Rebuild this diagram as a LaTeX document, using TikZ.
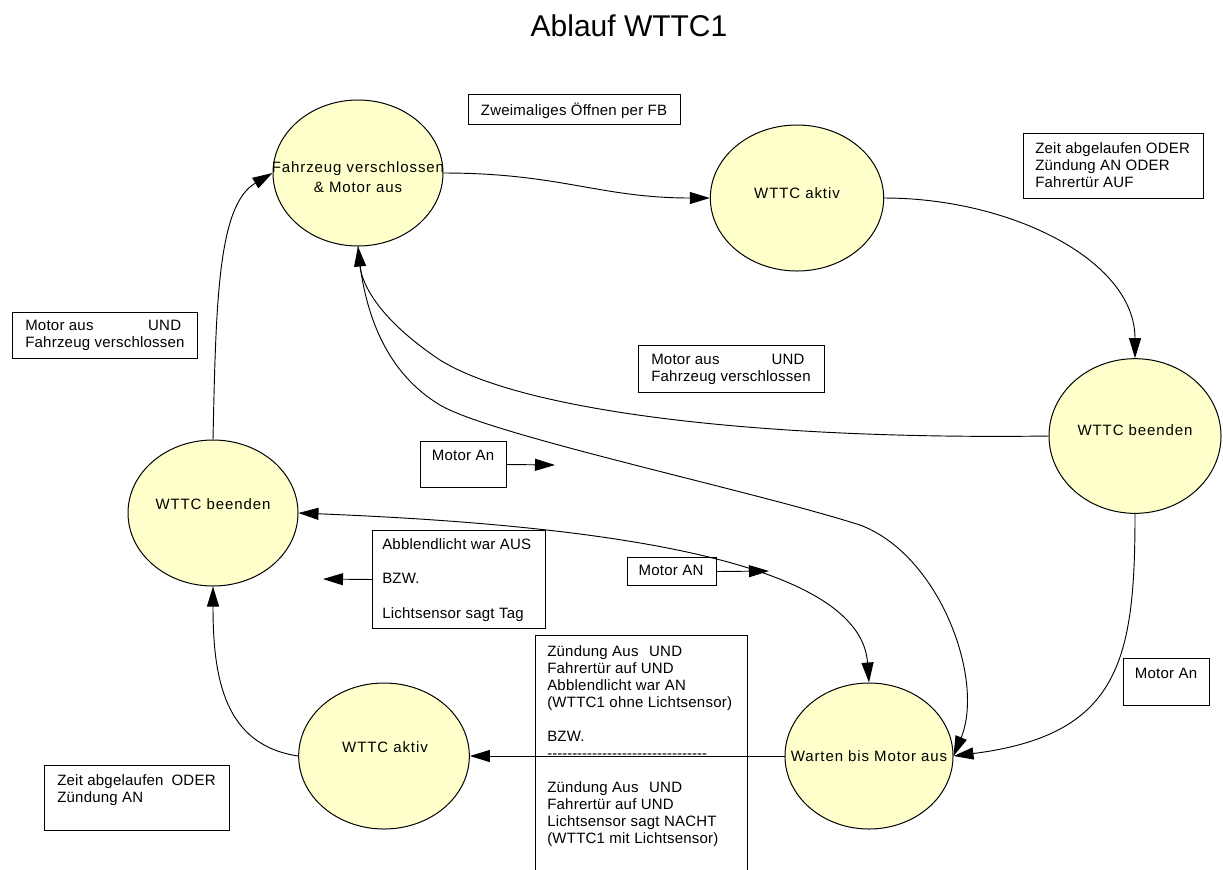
\documentclass[tikz,border=0pt]{standalone}
\usepackage{fontspec}
\setmainfont{Liberation Sans}
\newfontfamily\boxfont[LetterSpace=1.5]{Liberation Sans}
\newfontfamily\ellfont[LetterSpace=6]{Liberation Sans}
\usetikzlibrary{arrows.meta,shapes.geometric}
\definecolor{stateyellow}{RGB}{255,255,204}
\newcommand\hyph{-\kern0pt}
\newcommand\dashrow{\hyph\hyph\hyph\hyph\hyph\hyph\hyph\hyph\hyph\hyph\hyph\hyph\hyph\hyph\hyph\hyph\hyph\hyph\hyph\hyph\hyph\hyph\hyph\hyph\hyph\hyph\hyph\hyph\hyph\hyph\hyph\hyph}
\begin{document}
\begin{tikzpicture}[x=0.75pt,y=-0.75pt,
  state/.style={ellipse,draw=black,fill=stateyellow,line width=0.75pt,inner sep=0pt},
  stlabel/.style={font=\ellfont\fontsize{11.25pt}{14.5pt}\selectfont,align=center,inner sep=0pt},
  boxst/.style={draw=black,line width=0.75pt,anchor=north west,inner sep=0pt},
  boxtxt/.style={font=\boxfont\fontsize{11.25pt}{12.75pt}\selectfont,align=left,inner sep=0pt,anchor=base west},
  arr/.style={-{Triangle[length=15pt,width=9pt]},line width=0.7pt,black},
  arrboth/.style={{Triangle[length=15pt,width=9pt]}-{Triangle[length=15pt,width=9pt]},line width=0.7pt,black},
]
\useasboundingbox (0,0) rectangle (1223,869);

% title
\node[font=\fontsize{22.5pt}{26pt}\selectfont,anchor=base,inner sep=0pt] (title) at (629,36) {Ablauf WTTC1};

% states
\node[state,minimum width=127.5pt,minimum height=109.5pt] (fz) at (358,173) {};
\node[stlabel] (fzt) at (358,177) {Fahrzeug verschlossen\\\& Motor aus};
\node[state,minimum width=130pt,minimum height=109.5pt] (aktivT) at (797,198) {};
\node[stlabel] (aktivTt) at (797,193) {WTTC aktiv};
\node[state,minimum width=129pt,minimum height=116pt] (beendenR) at (1135,436) {};
\node[stlabel] (beendenRt) at (1135,430) {WTTC beenden};
\node[state,minimum width=127.5pt,minimum height=109.5pt] (beendenL) at (213,513) {};
\node[stlabel] (beendenLt) at (213,504) {WTTC beenden};
\node[state,minimum width=128pt,minimum height=109.5pt] (aktivB) at (384,756) {};
\node[stlabel] (aktivBt) at (385,747) {WTTC aktiv};
\node[state,minimum width=126pt,minimum height=109.5pt] (warten) at (869,756) {};
\node[stlabel] (wartent) at (869,756) {Warten bis Motor aus};

% boxes (text nodes anchored at the baseline of their last line)
\node[boxst,minimum width=159pt,minimum height=22.5pt] (b1) at (468,94) {};
\node[boxtxt,anchor=base] (b1t) at (574,115) {Zweimaliges Öffnen per FB};

\node[boxst,minimum width=135pt,minimum height=48.75pt] (b2) at (1023,133) {};
\node[boxtxt] (b2t) at (1035,187) {Zeit abgelaufen ODER\\Zündung AN ODER\\Fahrertür AUF};

\node[boxst,minimum width=138.75pt,minimum height=34.5pt] (b3) at (12,312) {};
\node[boxtxt] (b3t) at (25,347) {Motor aus\hspace{41pt}UND\\Fahrzeug verschlossen};

\node[boxst,minimum width=139.5pt,minimum height=35.25pt] (b4) at (638,345) {};
\node[boxtxt] (b4t) at (651,381) {Motor aus\hspace{39pt}UND\\Fahrzeug verschlossen};

\node[boxst,minimum width=64.5pt,minimum height=34.5pt] (b5) at (420,441) {};
\node[boxtxt,anchor=base] (b5t) at (463,460) {Motor An};

\node[boxst,minimum width=129.75pt,minimum height=73.5pt] (b6) at (372,530) {};
\node[boxtxt] (b6t) at (382,618) {Abblendlicht war AUS\\[13pt]BZW.\\[13pt]Lichtsensor sagt Tag};

\node[boxst,minimum width=66.75pt,minimum height=21pt] (b7) at (627,557) {};
\node[boxtxt,anchor=base] (b7t) at (671,575) {Motor AN};

\node[boxst,minimum width=159pt,minimum height=200pt] (b8) at (535,635) {};
\node[boxtxt] (b8t) at (547,843) {Zündung Aus\hspace{8pt}UND\\Fahrertür auf UND\\Abblendlicht war AN\\(WTTC1 ohne Lichtsensor)\\[12.75pt]BZW.\\\dashrow\\[12.75pt]Zündung Aus\hspace{8pt}UND\\Fahrertür auf UND\\Lichtsensor sagt NACHT\\(WTTC1 mit Lichtsensor)};

\node[boxst,minimum width=138.75pt,minimum height=48.75pt] (b9) at (44,765) {};
\node[boxtxt] (b9t) at (57,802) {Zeit abgelaufen\hspace{6pt}ODER\\Zündung AN};

\node[boxst,minimum width=64.5pt,minimum height=35.25pt] (b10) at (1123,658) {};
\node[boxtxt,anchor=base] (b10t) at (1166,678) {Motor An};

% free ends of the small arrows
\coordinate (b5end) at (555,465);
\coordinate (b7end) at (769,571);
\coordinate (b6end) at (323,579);

% connectors
\draw[arr] (fz.east) .. controls (560,173) and (600,198) .. (aktivT.west);
\draw[arr] (aktivT.east) .. controls (1010,198) and (1135,260) .. (beendenR.north);
\draw[arr] (beendenR.west) .. controls (750,440) and (520,410) .. (440,360) .. controls (380,320) and (362,285) .. (fz.south);
\draw[arr] (fz.south) .. controls (364,320) and (390,375) .. (440,405) .. controls (490,435) and (750,490) .. (860,525) .. controls (940,555) and (985,680) .. (warten.east);
\draw[arr] (beendenR.south) .. controls (1135,660) and (1120,735) .. (warten.east);
\draw[arr] (beendenL.north) .. controls (216,300) and (218,205) .. (fz.west);
\draw[arr] (aktivB.west) .. controls (225,745) and (213,680) .. (beendenL.south);
\draw[arr] (warten.west) -- (aktivB.east);
\draw[arrboth] (beendenL.east) .. controls (600,525) and (860,560) .. (warten.north);

\draw[arr] (b5.east) -- (b5end);
\draw[arr] (b7.east) -- (b7end);
\draw[arr] (b6.west) -- (b6end);
\end{tikzpicture}
\end{document}
